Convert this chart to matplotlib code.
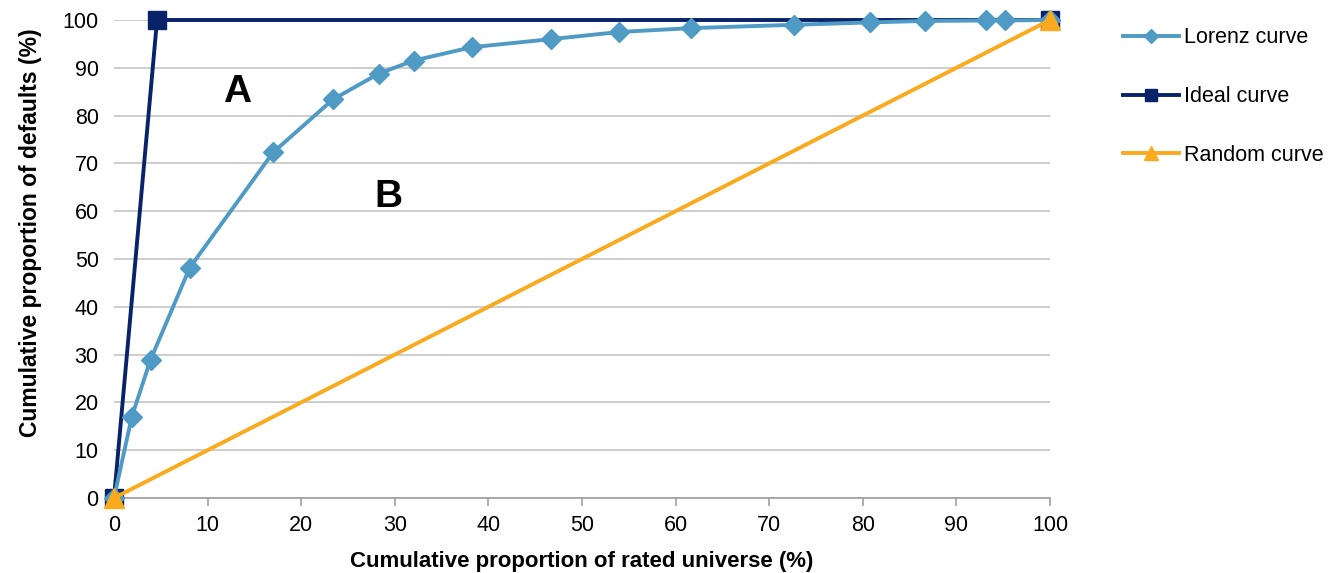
import matplotlib.pyplot as plt
from matplotlib.ticker import MultipleLocator

plt.rcParams['font.family'] = ['Liberation Sans', 'DejaVu Sans']

# Data
lorenz_x = [0, 1.9, 3.9, 8.1, 17.0, 23.4, 28.3, 32.0, 38.2, 46.7, 54.0, 61.6, 72.7, 80.8, 86.6, 93.2, 95.2, 100]
lorenz_y = [0, 17.0, 28.9, 48.2, 72.3, 83.4, 88.8, 91.5, 94.3, 96.0, 97.5, 98.3, 99.0, 99.5, 99.8, 99.9, 99.9, 100]
ideal_x = [0, 4.6, 100]
ideal_y = [0, 100, 100]
random_x = [0, 100]
random_y = [0, 100]

c_lorenz = '#4f9bc5'
c_ideal = '#082368'
c_random = '#fba91d'

fig = plt.figure(figsize=(13.39, 5.73), dpi=100)
ax = fig.add_axes([114/1339, 1-498/573, (1050-114)/1339, (498-20)/573])

ax.plot(lorenz_x, lorenz_y, color=c_lorenz, linewidth=2.8, marker='D', markersize=10.5,
        label='Lorenz curve', zorder=4, clip_on=False)
ax.plot(ideal_x, ideal_y, color=c_ideal, linewidth=2.8, marker='s', markersize=13,
        label='Ideal curve', zorder=3, clip_on=False)
ax.plot(random_x, random_y, color=c_random, linewidth=2.8, marker='^', markersize=14,
        label='Random curve', zorder=5, clip_on=False)

# A / B area labels
ax.text(13.1, 85.0, 'A', fontsize=28, fontweight='bold', ha='center', va='center')
ax.text(29.3, 63.0, 'B', fontsize=28, fontweight='bold', ha='center', va='center')

# Axes formatting
ax.set_xlim(0, 100)
ax.set_ylim(0, 100)
ax.xaxis.set_major_locator(MultipleLocator(10))
ax.yaxis.set_major_locator(MultipleLocator(10))
ax.grid(axis='y', color='#c0c0c0', linewidth=1.1)
ax.set_axisbelow(True)
for s in ['top', 'right', 'left']:
    ax.spines[s].set_visible(False)
ax.spines['bottom'].set_color('#a0a0a0')
ax.spines['bottom'].set_linewidth(1.2)
ax.tick_params(axis='x', direction='out', length=6, width=1.2, color='#a0a0a0',
               labelsize=15.5, pad=6)
ax.tick_params(axis='y', length=0, labelsize=15.5, pad=11)

ax.set_xlabel('Cumulative proportion of rated universe (%)', fontsize=16,
              fontweight='bold', labelpad=11)
ax.set_ylabel('Cumulative proportion of defaults (%)', fontsize=16.5,
              fontweight='bold', labelpad=15)
ax.yaxis.label.set_y(0.555)

ax.legend(loc='upper left', bbox_to_anchor=(1.057, 1.025), frameon=False,
          fontsize=15.5, numpoints=1, handlelength=2.6, handletextpad=0.25,
          labelspacing=1.75, markerscale=0.7)

plt.savefig('out.png', dpi=100)
